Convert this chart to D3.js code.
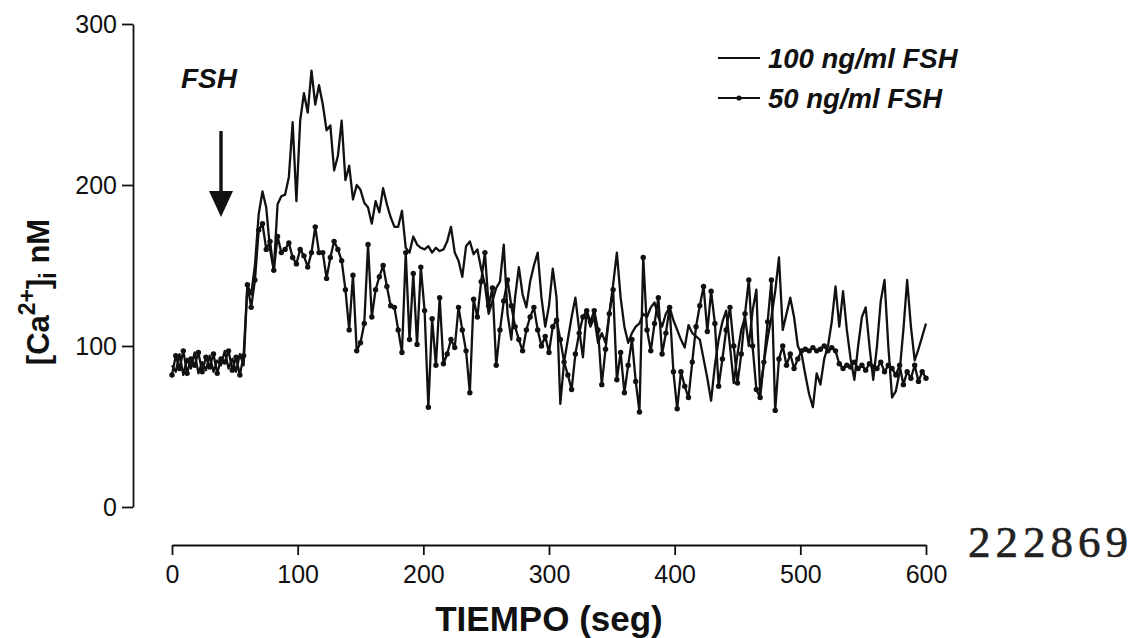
<!DOCTYPE html>
<html><head><meta charset="utf-8">
<script src="https://cdn.jsdelivr.net/npm/d3@7/dist/d3.min.js"></script>
<style>
html,body{margin:0;padding:0;background:#fff;}
svg{display:block;}
text{font-family:"Liberation Sans", Arial, sans-serif; fill:#111;}
text.stamp{font-family:"Liberation Serif","DejaVu Serif",serif; fill:#222;}
</style></head><body>
<svg id="chart" width="1139" height="638"></svg>
<script>
// ---- data (time in s, sampled every 3 s) ----
const sampleInterval = 3;
const xTicks = [0, 100, 200, 300, 400, 500, 600];
const yTicks = [0, 100, 200, 300];
const seriesNames = ["100 ng/ml FSH", "50 ng/ml FSH"];
const stimulusLabel = "FSH";
const stampText = "222869";

const ca100 = [
  88, 84, 95, 82, 92, 86, 96, 83, 90, 85,
  94, 84, 91, 88, 97, 86, 92, 84, 95, 88,
  138, 132, 150, 182, 196, 186, 160, 147, 188, 193,
  194, 205, 239, 190, 240, 257, 245, 271, 250, 262,
  250, 234, 237, 209, 218, 240, 203, 212, 191, 200,
  197, 189, 186, 176, 190, 183, 198, 188, 180, 174,
  174, 184, 161, 158, 168, 163, 161, 160, 162, 158,
  161, 159, 160, 165, 174, 158, 153, 143, 162, 165,
  157, 160, 148, 138, 120, 128, 136, 140, 163, 120,
  104, 130, 149, 132, 124, 140, 150, 158, 130, 112,
  125, 148, 130, 64, 90, 104, 118, 130, 110, 93,
  122, 112, 118, 102, 108, 102, 120, 138, 158, 130,
  112, 102, 108, 112, 114, 120, 118, 124, 127, 118,
  112, 120, 124, 116, 110, 104, 99, 113, 108, 106,
  104, 92, 80, 66, 88, 104, 115, 122, 100, 77,
  95, 110, 118, 100, 122, 135, 71, 90, 105, 118,
  134, 155, 110, 120, 130, 118, 100, 95, 82, 70,
  62, 83, 76, 92, 100, 115, 137, 112, 134, 110,
  92, 79, 100, 118, 124, 100, 79, 100, 128, 141,
  100, 68, 72, 84, 110, 141, 112, 91, 98, 106,
  114
];

const ca50 = [
  82, 94, 86, 97, 83, 92, 88, 96, 84, 93,
  87, 95, 83, 92, 90, 97, 85, 93, 82, 94,
  138, 124, 141, 172, 176, 160, 165, 147, 168, 158,
  160, 164, 155, 151, 160, 156, 149, 158, 174, 158,
  158, 142, 155, 165, 160, 153, 135, 110, 144, 97,
  102, 114, 163, 118, 135, 143, 150, 137, 125, 124,
  110, 96, 158, 104, 145, 101, 149, 122, 62, 117,
  88, 130, 89, 95, 104, 99, 124, 110, 97, 71,
  129, 118, 140, 158, 125, 136, 88, 110, 128, 141,
  125, 112, 104, 97, 110, 118, 124, 110, 100, 106,
  96, 112, 116, 104, 90, 82, 73, 95, 108, 118,
  122, 115, 122, 110, 76, 98, 120, 135, 79, 96,
  71, 88, 104, 78, 59, 155, 110, 97, 114, 130,
  95, 108, 124, 84, 61, 84, 75, 68, 90, 112,
  125, 137, 109, 134, 114, 75, 92, 110, 124, 100,
  77, 95, 120, 141, 100, 73, 68, 90, 115, 141,
  60, 92, 100, 88, 95, 86, 92, 97, 98, 97,
  99, 97, 98, 100, 97, 99, 97, 89, 86, 88,
  87, 90, 86, 88, 85, 89, 87, 86, 90, 84,
  88, 86, 82, 88, 76, 84, 80, 88, 78, 84,
  80
];

// ---- drawing ----
const svg = d3.select("#chart");
const ink = "#111";
const x = d3.scaleLinear().domain([0, 600]).range([172, 926]);
const y = d3.scaleLinear().domain([0, 300]).range([507, 24]);

const toPts = arr => arr.map((v, i) => ({t: i * sampleInterval, v}));
const pts100 = toPts(ca100), pts50 = toPts(ca50);

const line = d3.line().x(d => x(d.t)).y(d => y(d.v));

// y axis
const gy = svg.append("g").attr("transform", "translate(133,0)")
  .call(d3.axisLeft(y).tickValues(yTicks).tickSize(11).tickSizeOuter(0).tickPadding(5));
gy.selectAll("path,line").attr("stroke", ink).attr("stroke-width", 1.8);
gy.selectAll("text").attr("font-size", 25).attr("fill", ink);

// x axis
const gx = svg.append("g").attr("transform", "translate(0,545)")
  .call(d3.axisBottom(x).tickValues(xTicks).tickSize(10).tickSizeOuter(0).tickPadding(10));
gx.selectAll("path,line").attr("stroke", ink).attr("stroke-width", 1.8);
gx.selectAll("text").attr("font-size", 25).attr("fill", ink);

// series
svg.append("path").datum(pts50).attr("d", line)
  .attr("fill", "none").attr("stroke", ink).attr("stroke-width", 2.3).attr("stroke-linejoin", "round");
svg.append("g").selectAll("circle").data(pts50).join("circle")
  .attr("cx", d => x(d.t)).attr("cy", d => y(d.v)).attr("r", 2.7).attr("fill", ink);
svg.append("path").datum(pts100).attr("d", line)
  .attr("fill", "none").attr("stroke", ink).attr("stroke-width", 2.3).attr("stroke-linejoin", "round");

// y label
const yl = svg.append("text").attr("transform", "translate(49,292) rotate(-90)")
  .attr("text-anchor", "middle").attr("font-weight", "bold").attr("font-size", 31);
yl.append("tspan").text("[Ca");
yl.append("tspan").attr("font-size", 23).attr("dy", -14).text("2+");
yl.append("tspan").attr("dy", 14).text("]");
yl.append("tspan").attr("font-size", 23).attr("dy", 7).text("i");
yl.append("tspan").attr("dy", -7).text("\u00a0nM");

// x label
svg.append("text").attr("x", 549).attr("y", 631).attr("text-anchor", "middle")
  .attr("font-weight", "bold").attr("font-size", 35).text("TIEMPO (seg)");

// stimulus annotation
svg.append("text").attr("x", 181).attr("y", 88).attr("font-weight", "bold")
  .attr("font-style", "italic").attr("font-size", 28).text(stimulusLabel);
svg.append("line").attr("x1", 221).attr("x2", 221).attr("y1", 131).attr("y2", 195)
  .attr("stroke", ink).attr("stroke-width", 3.4);
svg.append("path").attr("d", "M209,191 L233,191 L221,217 Z").attr("fill", ink);

// legend
const leg = svg.append("g");
seriesNames.forEach((name, i) => {
  const ly = 58 + i * 40;
  leg.append("line").attr("x1", 718).attr("x2", 760).attr("y1", ly).attr("y2", ly)
    .attr("stroke", ink).attr("stroke-width", 1.8);
  if (i === 1) leg.append("circle").attr("cx", 739).attr("cy", ly).attr("r", 2.6).attr("fill", ink);
  leg.append("text").attr("x", 768).attr("y", ly + 10).attr("font-weight", "bold")
    .attr("font-style", "italic").attr("font-size", 27.5).text(name);
});

// stamp number
svg.append("text").attr("class", "stamp").attr("x", 968).attr("y", 557)
  .attr("font-size", 45).attr("letter-spacing", 5)
  .attr("stroke", "#222").attr("stroke-width", 0.6).text(stampText);
</script>
</body></html>
